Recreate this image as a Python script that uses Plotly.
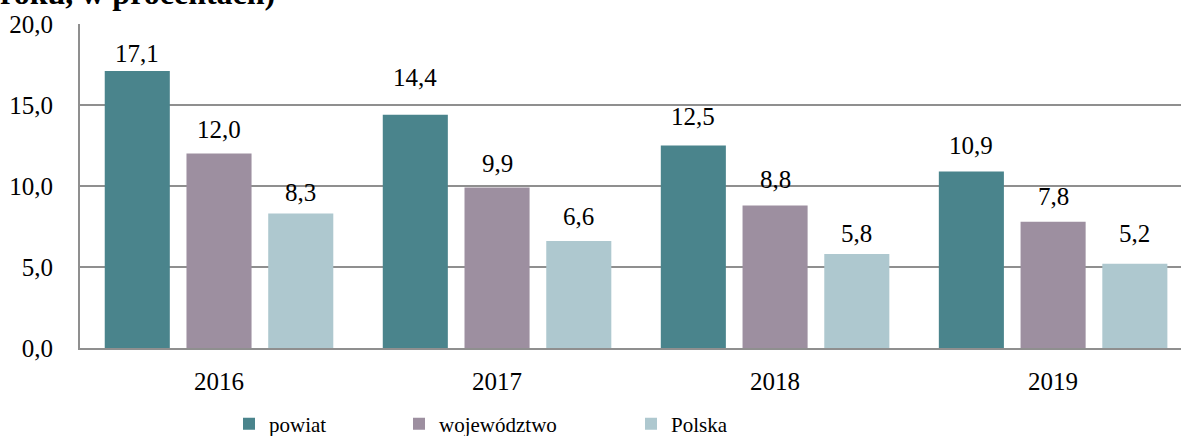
import plotly.graph_objects as go

years = ["2016", "2017", "2018", "2019"]
series_names = ["powiat", "województwo", "Polska"]
powiat = [17.1, 14.4, 12.5, 10.9]
wojewodztwo = [12.0, 9.9, 8.8, 7.8]
polska = [8.3, 6.6, 5.8, 5.2]
# heights (axis units) at which the value labels sit in the picture
label_pos_powiat = [18.2, 16.7, 14.3, 12.5]
label_pos_woj = [13.5, 11.4, 10.4, 9.35]
label_pos_pol = [9.6, 8.1, 7.06, 7.08]
y_ticks = [0, 5, 10, 15, 20]

colors = ["#4A848C", "#9D8FA0", "#AEC8CF"]
values = [powiat, wojewodztwo, polska]
label_pos = [label_pos_powiat, label_pos_woj, label_pos_pol]
legend_ids = ["legend", "legend2", "legend3"]

FONT = "Liberation Serif, Times New Roman, serif"
W, H = 1181, 436
ML, MR, MT, MB = 80, 0, 24, 88
PW, PH = W - ML - MR, H - MT - MB
BARGAP = 0.118
GROUPGAP = 0.204

fig = go.Figure()
for name, vals, col, lg in zip(series_names, values, colors, legend_ids):
    fig.add_trace(go.Bar(x=years, y=vals, name=name, marker_color=col,
                         marker_line_width=0, legend=lg))

# value labels as annotations, positioned at the bar centres
slot = (1 - BARGAP) / 3
annotations = []
for j, (vals, pos) in enumerate(zip(values, label_pos)):
    for i, (v, p) in enumerate(zip(vals, pos)):
        annotations.append(dict(
            x=i + (j - 1) * slot, y=p, xref="x", yref="y",
            text=f"{v:.1f}".replace(".", ","), showarrow=False,
            font=dict(family=FONT, size=25, color="#000000"),
            xanchor="center", yanchor="middle"))

# cut-off title line at the very top
annotations.append(dict(
    x=(-2 - ML) / PW, y=(H - MB - 13) / PH, xref="paper", yref="paper",
    xanchor="left", yanchor="bottom", text="<b>roku, w procentach)</b>",
    showarrow=False, font=dict(family=FONT, size=32, color="#000000")))

legend_x = [229 / W, 399 / W, 631 / W]
layout_legends = {}
for lg, lx in zip(legend_ids, legend_x):
    layout_legends[lg] = dict(
        x=lx, y=1 - 424 / H, xref="container", yref="container",
        xanchor="left", yanchor="middle", orientation="h",
        font=dict(family=FONT, size=21, color="#000000"),
        bgcolor="rgba(0,0,0,0)", itemwidth=30)

fig.update_layout(
    width=W, height=H,
    margin=dict(l=ML, r=MR, t=MT, b=MB),
    paper_bgcolor="white", plot_bgcolor="white",
    barmode="group", bargap=BARGAP, bargroupgap=GROUPGAP,
    separators=", ",
    showlegend=True,
    annotations=annotations,
    font=dict(family=FONT, size=25, color="#000000"),
    **layout_legends,
)
fig.update_xaxes(
    type="category", range=[-0.5, 3.46],
    showline=True, linecolor="#8F8F8F", linewidth=2,
    showgrid=False, ticks="", ticklabelstandoff=10,
    tickfont=dict(family=FONT, size=25, color="#000000"),
)
fig.update_yaxes(
    range=[0, 20], tickvals=y_ticks, tickformat=".1f",
    showgrid=True, gridcolor="#8F8F8F", gridwidth=2,
    zeroline=False, showline=True, linecolor="#8F8F8F", linewidth=2,
    ticks="", ticklabelstandoff=20,
    tickfont=dict(family=FONT, size=25, color="#000000"),
)

fig.write_html(
    "out.html",
    config={"displayModeBar": False},
    post_script="document.body.style.margin='0';"
                "document.body.style.overflow='hidden';",
)
